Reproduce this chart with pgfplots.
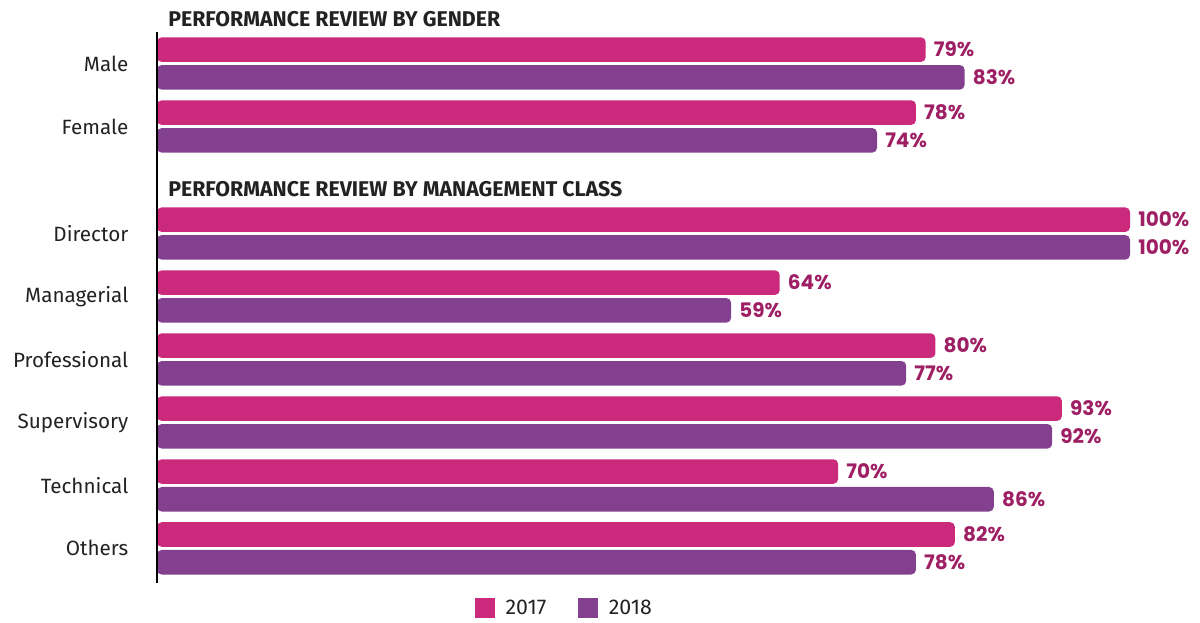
\documentclass[border=0pt]{standalone}
\usepackage{pgfplots}
\pgfplotsset{compat=1.18}
\usepackage{pgfplotstable}
\usepackage{fontspec}
\setmainfont{Fira Sans}
\newfontfamily\valfont{Poppins}
\definecolor{c17}{RGB}{203,41,123}
\definecolor{c18}{RGB}{131,64,142}
\definecolor{cval}{RGB}{158,31,99}
\definecolor{ctxt}{RGB}{34,34,34}
\pgfplotstableread{
y v2017 v2018
0 79 83
1 78 74
2.7 100 100
3.7 64 59
4.7 80 77
5.7 93 92
6.7 70 86
7.7 82 78
}\data
\begin{document}
\begin{tikzpicture}
\begin{axis}[
  name=ax,
  scale only axis,
  width=729.75pt, height=413.25pt,
  xmin=0, xmax=100,
  ymin=-0.5, ymax=8.25,
  y dir=reverse,
  clip=false,
  axis on top,
  axis x line=none,
  axis y line=left,
  y axis line style={-, line width=1.5pt, black},
  ytick={0,1,2.7,3.7,4.7,5.7,6.7,7.7},
  yticklabels={Male,Female,Director,Managerial,Professional,Supervisory,Technical,Others},
  major tick length=0pt,
  yticklabel style={font=\fontsize{15.5}{18}\selectfont, text=ctxt, anchor=east, xshift=-18pt},
  bar width=0.39,
  point meta=x,
  /pgf/number format/assume math mode=true,
  nodes near coords={\pgfmathprintnumber{\pgfplotspointmeta}\%},
  nodes near coords align={horizontal},
  every node near coord/.append style={anchor=west, inner sep=0pt, xshift=6pt, text=cval, font=\valfont\bfseries\fontsize{15}{17}\selectfont},
  legend columns=2,
  legend style={draw=none, fill=none, at={(0.419,-0.045)}, anchor=center,
    font=\fontsize{16}{18}\selectfont, text=ctxt,
    /tikz/every odd column/.append style={column sep=6pt},
    /tikz/every even column/.append style={column sep=22pt}},
]
\addplot[xbar, fill=c17, draw=none, rounded corners=3.5pt, bar shift=-0.22,
  every node near coord/.append style={yshift=10.39pt},
  legend image code/.code={\fill[c17, sharp corners] (0pt,-7.5pt) rectangle (15pt,7.5pt);}]
  table[x=v2017, y=y] {\data};
\addlegendentry{2017}
\addplot[xbar, fill=c18, draw=none, rounded corners=3.5pt, bar shift=0.22,
  every node near coord/.append style={yshift=-10.39pt},
  legend image code/.code={\fill[c18, sharp corners] (0pt,-7.5pt) rectangle (15pt,7.5pt);}]
  table[x=v2018, y=y] {\data};
\addlegendentry{2018}
\node[anchor=west, inner sep=0pt, text=ctxt, font=\bfseries\fontsize{16}{18}\selectfont] at (axis cs:1.13,-0.71) {PERFORMANCE REVIEW BY GENDER};
\node[anchor=west, inner sep=0pt, text=ctxt, font=\bfseries\fontsize{16}{18}\selectfont] at (axis cs:1.13,1.99) {PERFORMANCE REVIEW BY MANAGEMENT CLASS};
\end{axis}
\pgfresetboundingbox
\useasboundingbox ([shift={(-117.75pt,-29.25pt)}]ax.south west) rectangle ([shift={(52.5pt,24pt)}]ax.north east);
\end{tikzpicture}
\end{document}
